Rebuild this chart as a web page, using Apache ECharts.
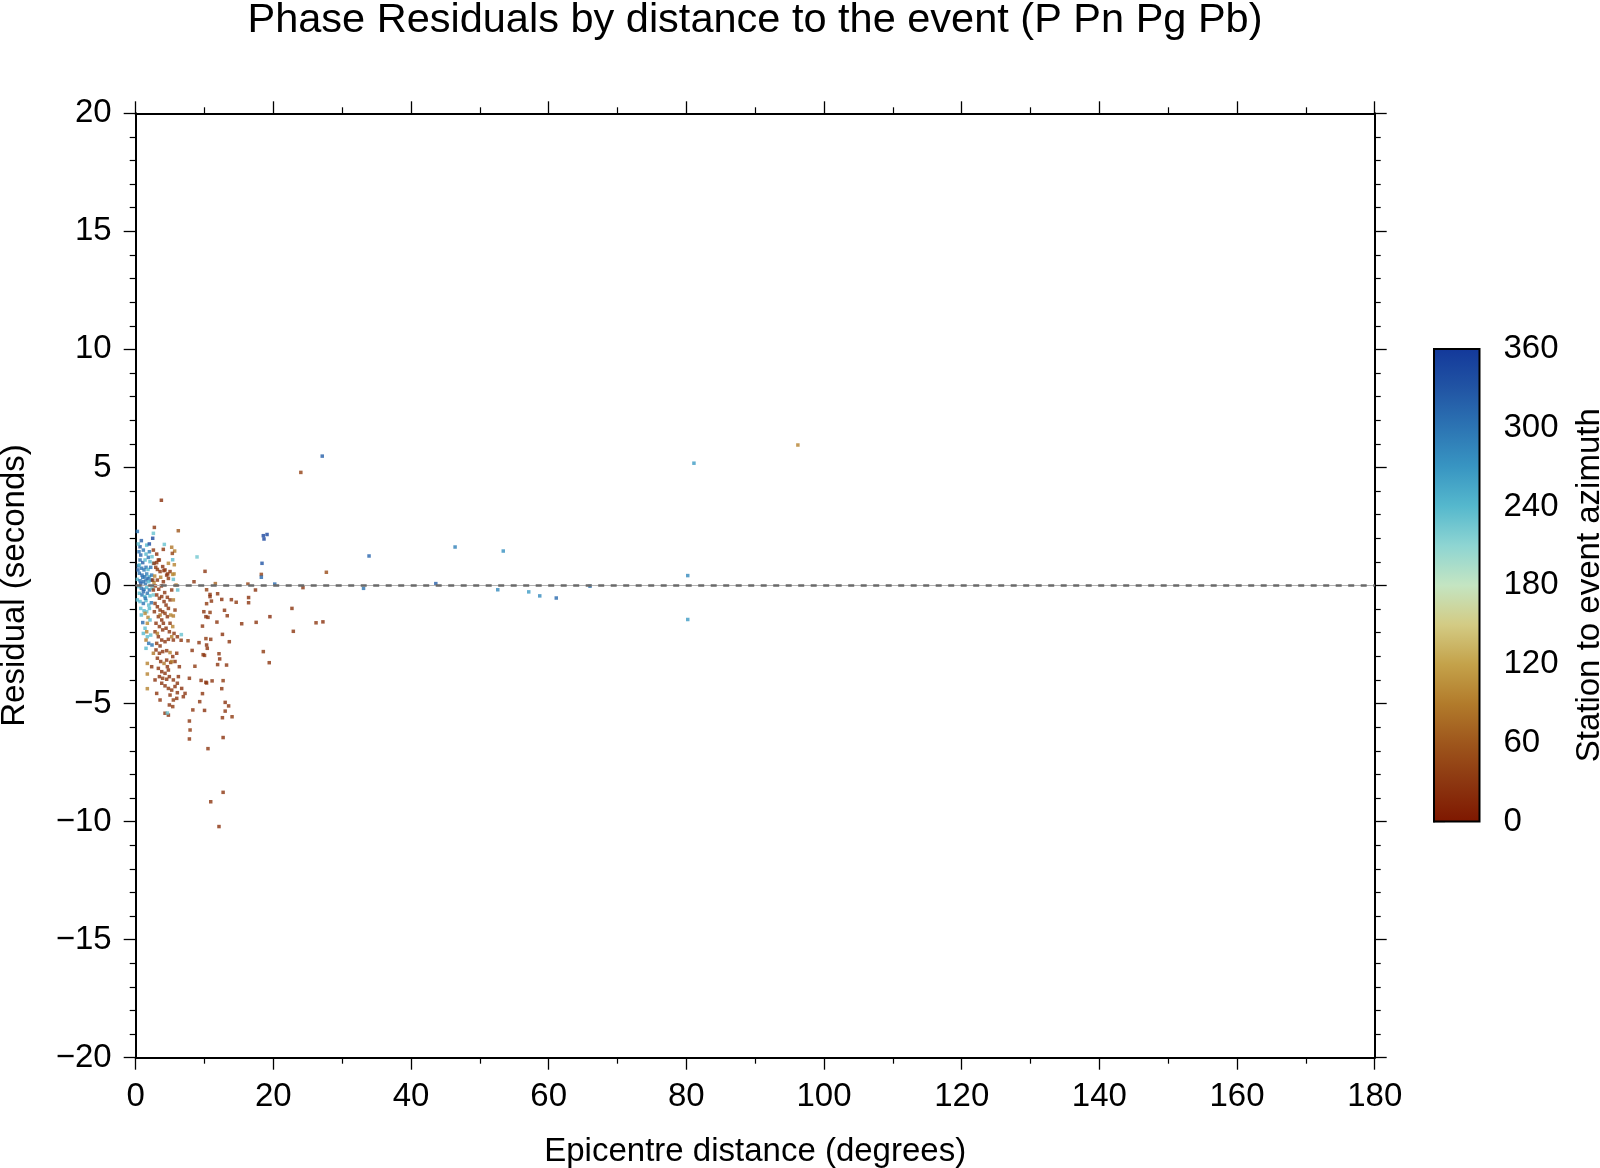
<!DOCTYPE html>
<html><head><meta charset="utf-8">
<script src="https://cdn.jsdelivr.net/npm/echarts@6/dist/echarts.min.js"></script>
<style>html,body{margin:0;padding:0;background:#fff}#c{width:1600px;height:1168px}</style>
</head><body><div id="c"></div>
<script>
// ---- DATA: [distance (deg), residual (s), azimuth (deg)] ----
const isolatedNear = [
[3.73,3.61,25],[0.24,2.29,300],[2.71,2.46,30],[6.19,2.32,60],[0.82,1.90,320],[0.38,1.76,235],[1.98,1.76,340],
[2.57,2.21,230],[2.47,2.00,345],[4.16,1.74,230],[4.01,1.53,30],[5.66,1.46,90],[5.32,1.36,40],[8.91,1.21,225],
[5.37,1.09,240],[5.23,1.62,85],[3.43,1.08,30],[3.05,0.97,30],[10.07,0.60,30],[5.61,0.88,95],[4.10,0.63,30],
[4.65,0.49,30],[5.37,0.47,100],[5.47,0.26,235],[3.63,0.35,90],[8.47,0.16,30],[11.57,0.08,70]
];
const midDistance = [
[18.54,2.11,345],[19.08,2.16,345],[18.64,1.97,345],[18.35,0.94,330],[18.25,0.47,40],[18.25,0.35,310],[20.2,0.06,310],
[16.3,0.06,40],[17.4,-0.19,25],[24.3,-0.09,30],[27.7,0.56,50],[22.7,-0.97,28],[22.9,-1.94,30],[26.2,-1.58,32],
[27.2,-1.54,25],[19.5,-1.32,20],[17.5,-1.56,30],[18.54,-2.80,35],[19.4,-3.27,30],[15.4,-1.62,28],[16.4,-0.51,25],
[16.4,-0.73,30],[14.6,-0.71,35],[13.9,-0.60,30],[12.5,-0.59,25],[11.9,-0.35,30],[10.3,-0.18,40],[10.8,-0.38,30],
[10.8,-0.47,25],[11.0,-0.66,30],[10.3,-0.77,35],[12.9,-1.05,30],[9.9,-1.11,28],[13.3,-1.28,30],[10.2,-1.32,25],
[10.5,-1.35,30],[10.8,-1.14,35],[11.8,-1.55,30],[9.7,-1.72,30],[12.6,-2.07,25],[13.6,-2.38,30],[10.2,-2.25,35],
[10.9,-2.28,30],[9.2,-2.42,30],[7.6,-2.34,40],[6.6,-2.32,30],[8.2,-2.75,30],[10.3,-2.52,25],[10.4,-2.66,30],
[9.8,-2.93,35],[10.0,-2.96,30],[12.1,-2.89,30],[12.2,-3.11,25],[11.9,-3.35,30],[13.2,-3.37,30],[8.6,-3.42,35],
[7.8,-3.93,30],[9.5,-4.02,30],[10.2,-4.10,25],[10.3,-4.13,30],[11.1,-4.04,30],[12.7,-4.03,35],[12.5,-4.37,30],
[9.7,-4.58,30],[13.0,-4.95,25],[13.5,-5.10,30],[13.0,-5.32,30],[14.0,-5.56,35],[12.6,-5.60,30],[9.3,-4.92,30],
[10.0,-5.29,25],[8.3,-5.27,30],[7.8,-5.74,30],[7.9,-6.12,35],[7.8,-6.50,30],[10.5,-6.91,30],[12.7,-6.44,25],
[12.7,-8.76,30],[10.9,-9.16,30],[12.1,-10.21,25],[23.99,4.79,40],[27.1,5.48,320]
];
const farDistance = [
[33.9,1.25,315],[33.1,-0.12,300],[96.2,5.95,95],[81.1,5.18,265],[46.4,1.63,290],[53.4,1.46,275],[80.2,0.42,280],
[80.2,-1.44,265],[43.6,0.08,320],[52.6,-0.18,280],[57.1,-0.27,265],[58.7,-0.44,280],[61.1,-0.53,310],[66.0,-0.03,300]
];
const nearCluster = [
[0.48,1.43,300],[0.73,1.29,310],[1.11,1.50,300],[1.50,1.33,240],[1.99,1.43,290],[0.63,1.08,300],[1.02,0.97,320],
[1.36,1.08,235],[1.84,1.19,300],[2.08,1.01,240],[2.37,1.22,230],[0.39,0.83,305],[0.87,0.73,300],[1.21,0.66,295],
[1.50,0.77,300],[1.79,0.68,240],[2.18,0.77,300],[2.57,0.94,230],[0.53,0.52,300],[0.92,0.44,310],[1.31,0.37,300],
[1.60,0.49,290],[1.99,0.37,240],[2.32,0.44,300],[2.76,0.40,95],[0.24,0.26,235],[0.63,0.20,300],[1.11,0.16,305],
[1.50,0.23,300],[1.89,0.16,240],[2.28,0.23,300],[2.66,0.12,100],[0.44,-0.05,235],[0.82,-0.12,300],[1.21,-0.16,300],
[1.60,-0.08,240],[1.99,-0.19,300],[2.37,-0.12,230],[0.53,-0.33,240],[0.92,-0.40,300],[1.31,-0.47,240],[1.69,-0.33,300],
[2.08,-0.44,240],[2.57,-0.40,225],[0.63,-0.68,240],[1.11,-0.76,300],[1.50,-0.64,240],[1.89,-0.83,235],[2.28,-0.73,300],
[0.73,-0.97,235],[1.21,-1.07,240],[1.60,-1.11,230],[1.99,-0.97,240],[1.02,-1.57,310],[1.36,-1.81,235],[1.69,-2.17,235],
[1.89,-2.45,300],[2.18,-2.10,235],[1.60,-1.96,95],[1.69,-1.60,100],[1.50,-2.31,90],[1.69,-3.30,95],[1.69,-3.75,95],
[1.69,-4.37,95],[1.36,-1.18,100],[1.79,-1.35,95],[0.34,0.66,310],[0.73,0.09,320],[1.41,0.06,300],[1.02,0.34,300],
[1.79,0.30,310],[0.53,0.87,240],[1.11,-0.26,310],[1.41,-0.54,300],[0.24,-0.61,240],[0.82,-1.25,240],[2.08,-1.46,240],
[1.11,-2.03,240],[2.37,-2.52,300],[1.50,-2.66,240],[0.63,1.64,320],[1.60,1.71,240]
];
const brownColumn = [
[2.57,1.50,30],[3.05,1.33,25],[3.29,1.08,30],[2.91,0.77,35],[3.54,0.59,30],[3.92,0.80,25],[4.26,0.66,30],[4.50,0.44,30],
[4.75,0.30,35],[3.15,0.23,30],[4.02,0.16,25],[2.57,-0.19,30],[3.05,-0.40,30],[3.44,-0.54,35],[3.78,-0.47,30],
[4.12,-0.68,25],[4.41,-0.83,30],[4.75,-0.97,30],[4.99,-0.61,35],[2.81,-0.76,30],[3.15,-0.90,25],[3.54,-1.04,30],
[3.92,-1.11,30],[4.26,-1.18,35],[4.60,-1.32,30],[5.08,-1.25,95],[5.47,-1.29,90],[3.29,-1.32,30],[3.78,-1.46,25],
[2.71,-1.11,30],[2.95,-1.60,30],[3.44,-1.74,35],[3.92,-1.88,30],[4.41,-1.81,25],[4.89,-1.96,30],[5.38,-1.74,95],
[5.57,-2.03,30],[2.81,-1.96,35],[3.29,-2.17,30],[3.78,-2.31,25],[4.26,-2.38,30],[4.75,-2.28,30],[5.23,-2.17,90],
[5.47,-2.31,30],[3.05,-2.45,35],[3.54,-2.56,30],[2.95,-2.73,25],[3.44,-2.87,30],[3.92,-2.80,30],[4.50,-2.76,35],
[4.99,-2.84,90],[5.38,-3.01,30],[5.71,-3.22,25],[3.15,-3.08,30],[3.63,-3.22,30],[4.12,-3.30,85],[4.60,-3.44,30],
[5.08,-3.26,35],[3.29,-3.51,30],[3.78,-3.65,25],[4.26,-3.72,30],[4.75,-3.58,30],[3.92,-3.93,35],[4.50,-3.97,30],
[4.89,-3.86,25],[3.78,-4.14,30],[4.26,-4.25,30],[4.75,-4.36,35],[5.23,-4.43,30],[5.71,-4.28,25],[6.05,-4.14,30],
[4.99,-4.64,30],[5.47,-4.85,35],[6.05,-4.54,30],[6.68,-4.36,25],[7.17,-4.57,30],[4.89,-5.06,30],[5.38,-5.13,35],
[4.26,-5.41,30],[4.75,-5.49,25],[6.92,-4.71,30],[5.96,-4.78,30],[4.60,-5.40,230],[2.47,0.23,30],[2.86,-0.02,35],
[3.34,-0.16,30],[3.73,-0.02,25],[4.21,-0.30,30],[4.60,-0.50,30],[3.54,-1.25,80],[4.02,-1.60,30],[4.99,-1.60,35],
[4.50,-3.16,30],[3.44,-3.86,25],[5.47,-4.00,30],[2.66,0.94,30],[3.15,0.68,35],[4.75,0.94,95],[4.99,0.59,30],
[5.57,0.49,95],[5.86,0.02,100],[6.10,-0.19,235],[6.63,-2.08,230],[6.34,-3.44,30],[5.23,-3.22,90],[6.20,-3.86,25],
[5.96,-2.87,30],[6.05,-2.17,30],[5.71,-1.04,35],[5.47,-0.61,90],[5.23,-0.19,30],[3.15,-2.03,90],[2.57,-2.87,85],
[2.32,-3.44,30],[2.81,-4.00,25],[3.05,-4.57,30],[3.54,-4.85,30]
];
// colour scale (station-to-event azimuth, 0..360 every 30)
const azColors = ['#7e1700','#8c3610','#9e561c','#b27b2b','#c4a24a','#d3cb84','#c4e5c2','#8ed5d2','#55b8cd','#3895c2','#2c74b3','#2154a4','#13389a'];
const xRange = [0, 180], xStep = 20;
const yRange = [-20, 20], yStep = 5;
const azRange = [0, 360], azStep = 60;
const titleText = 'Phase Residuals by distance to the event (P Pn Pg Pb)';
const xName = 'Epicentre distance (degrees)';
const yName = 'Residual (seconds)';
const cbName = 'Station to event azimuth';

const allPoints = [].concat(nearCluster, brownColumn, isolatedNear, midDistance, farDistance);
const FONT = '"Liberation Sans", Arial, Helvetica, sans-serif';
const tickFmt = v => v < 0 ? '\u2212' + Math.abs(v) : String(v);
const frameLine = {show:true, onZero:false, lineStyle:{color:'#000', width:2}};
const majorTick = {show:true, inside:false, length:12, lineStyle:{color:'#000', width:1.3}};
const txt = {color:'#000', fontSize:33, fontFamily:FONT};

const chart = echarts.init(document.getElementById('c'), null, {renderer:'canvas'});
const stops = azColors.map((c,i)=>({offset:i/(azColors.length-1), color:c}));
chart.setOption({
  animation:false,
  backgroundColor:'#fff',
  graphic:[{type:'text', x:755, y:0, style:{text:titleText, fill:'#000', font:'41.5px ' + FONT, textAlign:'center', textVerticalAlign:'top'}}],
  grid:[
    {left:135.7, top:113.3, width:1239, height:944.4, containLabel:false, outerBoundsMode:'none'},
    {left:1434, top:349, width:45.5, height:472.5, containLabel:false, outerBoundsMode:'none'}
  ],
  visualMap:{type:'continuous', show:false, min:azRange[0], max:azRange[1], dimension:2, seriesIndex:0, inRange:{color:azColors}},
  xAxis:[
    {gridIndex:0, type:'value', min:xRange[0], max:xRange[1], interval:xStep, position:'bottom',
     name:xName, nameLocation:'middle', nameGap:78, nameTextStyle:txt,
     axisLine:frameLine, axisTick:majorTick,
     minorTick:{show:true, splitNumber:2, length:6, lineStyle:{color:'#000', width:1.2}},
     axisLabel:Object.assign({margin:23, formatter:tickFmt}, txt), splitLine:{show:false}, minorSplitLine:{show:false}},
    {gridIndex:0, type:'value', min:xRange[0], max:xRange[1], interval:xStep, position:'top',
     axisLine:frameLine, axisTick:majorTick,
     minorTick:{show:true, splitNumber:2, length:6, lineStyle:{color:'#000', width:1.2}},
     axisLabel:{show:false}, splitLine:{show:false}},
    {gridIndex:1, type:'value', min:0, max:1, show:false}
  ],
  yAxis:[
    {gridIndex:0, type:'value', min:yRange[0], max:yRange[1], interval:yStep, position:'left',
     name:yName, nameLocation:'middle', nameGap:104, nameRotate:90, nameTextStyle:txt,
     axisLine:frameLine, axisTick:majorTick,
     minorTick:{show:true, splitNumber:5, length:6, lineStyle:{color:'#000', width:1.2}},
     axisLabel:Object.assign({margin:24, formatter:tickFmt}, txt), splitLine:{show:false}, minorSplitLine:{show:false}},
    {gridIndex:0, type:'value', min:yRange[0], max:yRange[1], interval:yStep, position:'right',
     axisLine:frameLine, axisTick:majorTick,
     minorTick:{show:true, splitNumber:5, length:6, lineStyle:{color:'#000', width:1.2}},
     axisLabel:{show:false}, splitLine:{show:false}},
    {gridIndex:1, type:'value', min:azRange[0], max:azRange[1], interval:azStep, position:'right',
     name:cbName, nameLocation:'middle', nameGap:94, nameRotate:90, nameTextStyle:txt,
     axisLine:{show:true, lineStyle:{color:'#000', width:2}},
     axisTick:{show:true, inside:false, length:11, lineStyle:{color:'#000', width:1.3}},
     axisLabel:Object.assign({margin:24}, txt), splitLine:{show:false}}
  ],
  series:[
    {type:'scatter', xAxisIndex:0, yAxisIndex:0, symbol:'rect', symbolSize:3.5, data:allPoints, silent:true,
     markLine:{silent:true, symbol:'none', label:{show:false},
       data:[{yAxis:0, lineStyle:{type:'solid', color:'#b4b4b4', width:1}},
             {yAxis:0, lineStyle:{type:[6,6.5], color:'#6a6a6a', width:2.5}}]}},
    {type:'custom', xAxisIndex:2, yAxisIndex:2, silent:true, data:[[0, azRange[0], 1, azRange[1]]],
     renderItem:function(params, api){
       const p0 = api.coord([api.value(0), api.value(1)]);
       const p1 = api.coord([api.value(2), api.value(3)]);
       return {type:'rect', shape:{x:p0[0], y:p1[1], width:p1[0]-p0[0], height:p0[1]-p1[1]},
         style:{fill:new echarts.graphic.LinearGradient(0,1,0,0,stops), stroke:'#000', lineWidth:2}};
     }}
  ]
});
</script></body></html>
